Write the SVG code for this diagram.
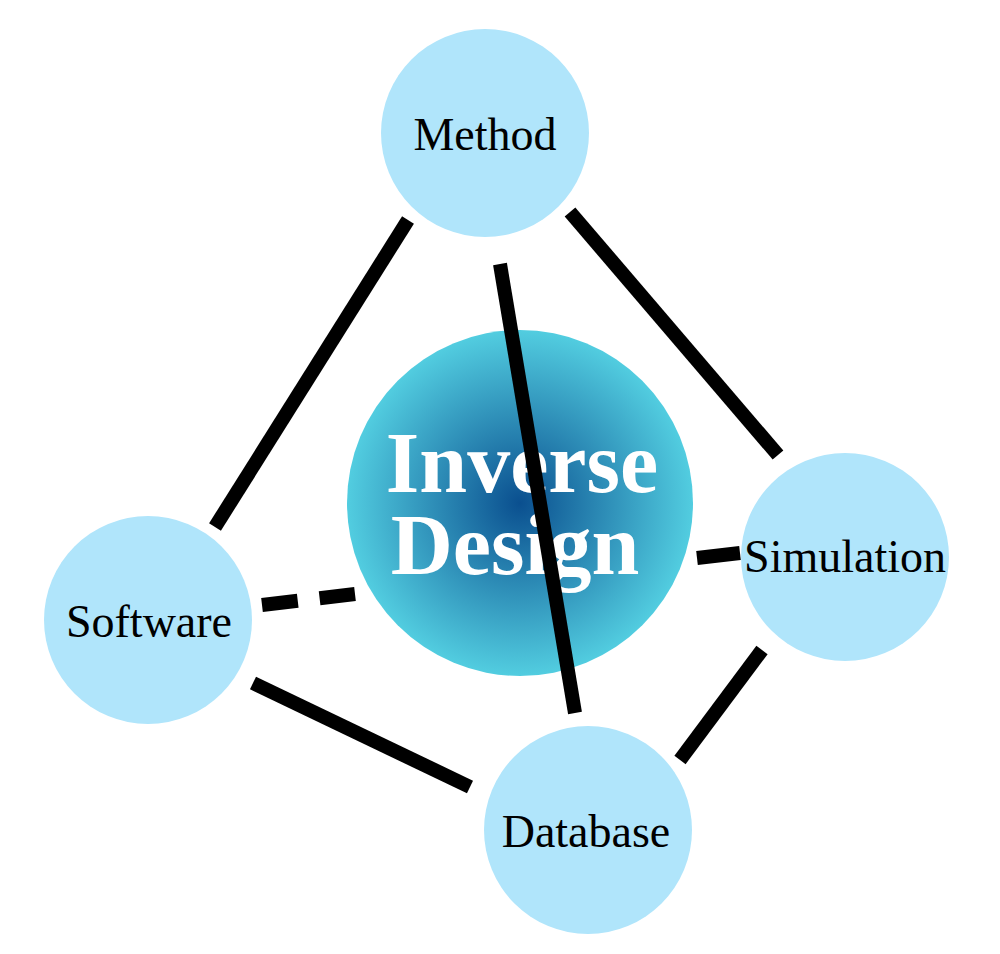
<svg xmlns="http://www.w3.org/2000/svg" width="1000" height="954" viewBox="0 0 1000 954">
<style>
.n{fill:#b0e5fb}
.t{font-family:"Liberation Serif",serif;font-size:46px;fill:#000;text-anchor:middle}
.c{stroke:#000;stroke-width:14;fill:none}
.d{stroke-dasharray:36,22}
</style>
<defs><radialGradient id="g" cx="0.5" cy="0.5" r="0.5"><stop offset="0" stop-color="#0a4f8f"/><stop offset="1" stop-color="#52cde0"/></radialGradient></defs>
<rect width="1000" height="954" fill="#fff"/>
<g id="center"><circle cx="520" cy="503" r="173" fill="url(#g)"/>
<text x="522" y="492" font-family="Liberation Serif,serif" font-weight="bold" font-size="86" fill="#fff" text-anchor="middle">Inverse</text>
<text x="515" y="574" font-family="Liberation Serif,serif" font-weight="bold" font-size="86" fill="#fff" text-anchor="middle">Design</text></g>
<g id="connectors">
<line class="c" x1="408" y1="220" x2="215" y2="527"/>
<line class="c" x1="570" y1="212" x2="778" y2="455"/>
<line class="c" x1="500" y1="264" x2="575" y2="713"/>
<line class="c d" x1="262" y1="605" x2="355" y2="594"/>
<line class="c" x1="697" y1="558" x2="740" y2="553"/>
<line class="c" x1="253" y1="683" x2="470" y2="787"/>
<line class="c" x1="762" y1="650" x2="680" y2="760"/>
</g>
<g id="method"><circle class="n" cx="485" cy="133" r="104"/><text class="t" x="485" y="150">Method</text></g>
<g id="software"><circle class="n" cx="148" cy="620" r="104"/><text class="t" x="149" y="637">Software</text></g>
<g id="database"><circle class="n" cx="588" cy="830" r="104"/><text class="t" x="586" y="847">Database</text></g>
<g id="simulation"><circle class="n" cx="845" cy="557" r="104"/><text class="t" x="845" y="572">Simulation</text></g>
</svg>
